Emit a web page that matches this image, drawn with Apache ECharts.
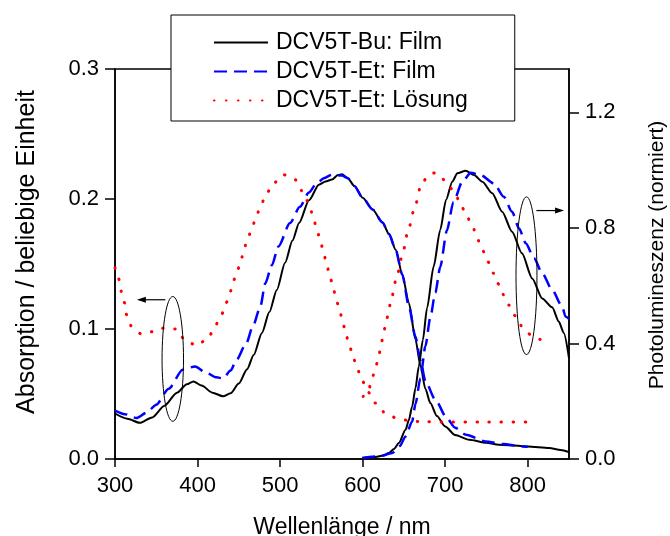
<!DOCTYPE html>
<html><head><meta charset="utf-8">
<script src="https://cdn.jsdelivr.net/npm/echarts@6/dist/echarts.min.js"></script>
<style>html,body{margin:0;padding:0;background:#fff}#c{width:670px;height:536px}</style>
</head><body><div id="c"></div>
<script>
// ---- data (wavelength nm, value) ----
const seriesNames = ['DCV5T-Bu: Film', 'DCV5T-Et: Film', 'DCV5T-Et: Lösung'];
const xTicks = [300, 400, 500, 600, 700, 800];
const yLeftTicks = [0, 0.1, 0.2, 0.3];
const yRightTicks = [0, 0.4, 0.8, 1.2];

// Absorption (left axis)
const buAbsX = [300,315,330,345,360,375,387,395,405,418,431,440,450,460,468,478,487,496,506,515,523,535,547,555,563,570,575,582,590,600,612,624,632,640,648,656,664,670,676,682,690,700,712,729,750,765,800,826,840,850];
const buAbsY = [0.0350,0.0310,0.0278,0.0320,0.0410,0.0510,0.0575,0.0597,0.0565,0.0510,0.0482,0.0505,0.0580,0.0690,0.0800,0.0970,0.1130,0.1300,0.1510,0.1680,0.1815,0.1990,0.2110,0.2135,0.2150,0.2185,0.2190,0.2160,0.2100,0.2010,0.1920,0.1820,0.1730,0.1610,0.1420,0.1200,0.0920,0.0720,0.0540,0.0430,0.0330,0.0250,0.0185,0.0148,0.0125,0.0110,0.0097,0.0085,0.0070,0.0054];

const etAbsX = [300,312,326,338,350,365,382,397,410,423,431,440,447,459,467,476,482,490,498,512,524,535,543,553,563,575,582,590,600,612,624,632,640,648,656,664,670,676,688,702,712,725,749,770,794,800];
const etAbsY = [0.0372,0.0345,0.0315,0.0355,0.0418,0.0540,0.0687,0.0712,0.0665,0.0628,0.0620,0.0680,0.0760,0.0890,0.1020,0.1170,0.1350,0.1490,0.1635,0.1815,0.1940,0.2050,0.2110,0.2160,0.2187,0.2180,0.2160,0.2100,0.2010,0.1920,0.1820,0.1730,0.1610,0.1420,0.1175,0.0940,0.0760,0.0600,0.0456,0.0315,0.0240,0.0187,0.0135,0.0115,0.0097,0.0095];

const solAbsX = [300,304.5,307.6,311.8,314,320,332,346,360,374,385,399,413,421,429,435,441,445,450.5,455,459,464.7,470,475.6,482,491,504,518,527,534.6,539.4,543.6,548,552,555.7,559.7,563.7,567.4,571.5,575.8,579,583.6,588,593,599,606,615.5,628,642.6,656.8,671,700,750,800];
const solAbsY = [0.147,0.1385,0.129,0.120,0.111,0.102,0.0961,0.098,0.1008,0.100,0.0913,0.0872,0.093,0.102,0.111,0.1205,0.130,0.1387,0.1477,0.157,0.166,0.175,0.184,0.193,0.202,0.2115,0.2187,0.215,0.206,0.197,0.188,0.179,0.170,0.161,0.152,0.1425,0.1335,0.1246,0.1156,0.1064,0.0974,0.0885,0.0795,0.0702,0.061,0.052,0.043,0.035,0.031,0.0295,0.0287,0.0285,0.0285,0.0285];

// Photoluminescence (right axis, normalised)
const buPlX = [599.5,615.6,625,631.7,638,643.9,652,656,660,664,668,673,678,686,694,701,708.6,714.7,724.8,735,745,757,769,781,793,805.4,817.5,829.6,837.6,843.7,850];
const buPlY = [0.0035,0.007,0.012,0.0207,0.035,0.055,0.101,0.135,0.182,0.245,0.32,0.4125,0.522,0.666,0.793,0.8966,0.96,0.989,0.998,0.983,0.96,0.92,0.856,0.787,0.712,0.625,0.556,0.525,0.476,0.436,0.349];

const etPlX = [599.5,619.6,635.8,645,652,660,664,670,676,682,688,694,702,710,720.8,731,743,759,771,781,789.4,797.6,807.7,817.5,829.6,841.7,845.8,850];
const etPlY = [0.0035,0.009,0.0207,0.045,0.078,0.13,0.19,0.28,0.39,0.49,0.575,0.665,0.79,0.89,0.96,0.991,0.983,0.954,0.908,0.856,0.799,0.747,0.695,0.643,0.5854,0.528,0.493,0.485];

const solPlX = [600.6,607.5,609.5,614.3,618.4,621.6,624.4,627.7,631,634,641,648,655,663,671,681,687,693,703,711.8,718.7,726,733.6,739,745,751.8,758.4,764,769.3,777.4,785,794,803.6,817];
const solPlY = [0.2165,0.237,0.259,0.2995,0.340,0.380,0.4205,0.462,0.5024,0.545,0.626,0.705,0.789,0.870,0.952,0.9865,0.990,0.983,0.951,0.92,0.882,0.841,0.802,0.762,0.724,0.683,0.643,0.607,0.5716,0.5325,0.4955,0.455,0.43,0.41];

const pairs = (xs, ys) => xs.map((x, i) => [x, ys[i]]);

const FONT = '"Liberation Sans", Arial, sans-serif';
const black = { color: '#000', width: 2, type: 'solid' };
const blue = { color: '#0000ff', width: 2.5, type: [13, 7] };
const red = { color: '#ff0000', width: 3, type: [0.5, 11.5], cap: 'round' };

function mk(name, data, yIdx, ls) {
  return {
    name, type: 'line', data, yAxisIndex: yIdx, symbol: 'none', showSymbol: false,
    smooth: 0.25, smoothMonotone: 'x',
    lineStyle: ls, itemStyle: { color: ls.color }, animation: false
  };
}

const chart = echarts.init(document.getElementById('c'), null, { renderer: 'canvas' });
const axisCommon = {
  axisLine: { show: true, lineStyle: { color: '#000', width: 1.5 } },
  axisTick: { show: true, inside: false, lineStyle: { color: '#000', width: 1.5 } },
  splitLine: { show: false },
};
chart.setOption({
  animation: false,
  backgroundColor: '#fff',
  textStyle: { fontFamily: FONT },
  grid: { left: 115, right: 101, top: 69, bottom: 77, show: true, borderColor: '#000', borderWidth: 1.5,
    backgroundColor: 'transparent', containLabel: false, outerBoundsMode: 'none' },
  legend: {
    data: seriesNames, orient: 'vertical', left: 171, top: 15,
    padding: [16, 47, 9, 42], itemGap: 6, itemWidth: 54, itemHeight: 14,
    backgroundColor: '#fff', borderColor: '#000', borderWidth: 1, borderRadius: 0,
    itemStyle: { opacity: 0 },
    textStyle: { fontSize: 23, color: '#000', fontFamily: FONT, padding: [0, 0, 0, 3] }
  },
  xAxis: {
    type: 'value', min: 300, max: 850, interval: 100,
    name: 'Wellenlänge / nm', nameLocation: 'middle', nameGap: 57,
    nameTextStyle: { fontSize: 23, color: '#000', fontFamily: FONT },
    ...axisCommon,
    axisTick: { ...axisCommon.axisTick, length: 8, customValues: xTicks },
    axisLabel: { color: '#000', fontSize: 22, fontFamily: FONT, margin: 16, customValues: xTicks }
  },
  yAxis: [{
    type: 'value', min: 0, max: 0.3, interval: 0.1, position: 'left',
    name: 'Absorption / beliebige Einheit', nameLocation: 'middle', nameGap: 75, nameRotate: 90,
    nameTextStyle: { fontSize: 25, color: '#000', fontFamily: FONT, padding: [0, 0, 0, 24] },
    ...axisCommon,
    axisTick: { ...axisCommon.axisTick, length: 10, customValues: yLeftTicks },
    axisLabel: { color: '#000', fontSize: 22, fontFamily: FONT, margin: 16, customValues: yLeftTicks, formatter: v => v.toFixed(1) }
  }, {
    type: 'value', min: 0, max: 1.35, interval: 0.4, position: 'right',
    name: 'Photolumineszenz (normiert)', nameLocation: 'middle', nameGap: 78, nameRotate: 90,
    nameTextStyle: { fontSize: 21, color: '#000', fontFamily: FONT, padding: [0, 0, 0, 18] },
    ...axisCommon,
    axisTick: { ...axisCommon.axisTick, length: 10, customValues: yRightTicks },
    axisLabel: { color: '#000', fontSize: 22, fontFamily: FONT, margin: 16, customValues: yRightTicks, formatter: v => v.toFixed(1) }
  }],
  series: [
    mk(seriesNames[0], pairs(buAbsX, buAbsY), 0, black),
    mk(seriesNames[1], pairs(etAbsX, etAbsY), 0, blue),
    mk(seriesNames[2], pairs(solAbsX, solAbsY), 0, red),
    mk(seriesNames[0], pairs(buPlX, buPlY), 1, black),
    mk(seriesNames[1], pairs(etPlX, etPlY), 1, blue),
    mk(seriesNames[2], pairs(solPlX, solPlY), 1, red)
  ]
});

// ---- annotations (ellipses + arrows), placed through the axes ----
const annLeft = { cx: 370, cy: 0.077, x2: 383, y2: 0.125, ax1: 361, ax2: 326.5, ay: 0.1225, axis: 0 };
const annRight = { cx: 798.5, cy: 0.6345, x2: 811.2, y2: 0.9075, ax1: 810.5, ax2: 844, ay: 0.86, axis: 1 };
function toPx(axis, p) { return chart.convertToPixel({ xAxisIndex: 0, yAxisIndex: axis }, p); }
const gfx = [];
[annLeft, annRight].forEach(a => {
  const c = toPx(a.axis, [a.cx, a.cy]);
  const e = toPx(a.axis, [a.x2, a.y2]);
  gfx.push({ type: 'ellipse', z: 10, shape: { cx: c[0], cy: c[1], rx: Math.abs(e[0] - c[0]), ry: Math.abs(c[1] - e[1]) },
    style: { fill: null, stroke: '#000', lineWidth: 1 } });
  const p1 = toPx(a.axis, [a.ax1, a.ay]);
  const p2 = toPx(a.axis, [a.ax2, a.ay]);
  const dir = Math.sign(p2[0] - p1[0]);
  gfx.push({ type: 'line', z: 10, shape: { x1: p1[0], y1: p1[1], x2: p2[0] - dir * 6, y2: p2[1] }, style: { stroke: '#000', lineWidth: 1.2 } });
  gfx.push({ type: 'polygon', z: 10, shape: { points: [[p2[0], p2[1]], [p2[0] - dir * 9, p2[1] - 3], [p2[0] - dir * 9, p2[1] + 3]] }, style: { fill: '#000' } });
});
chart.setOption({ graphic: gfx });
</script></body></html>
